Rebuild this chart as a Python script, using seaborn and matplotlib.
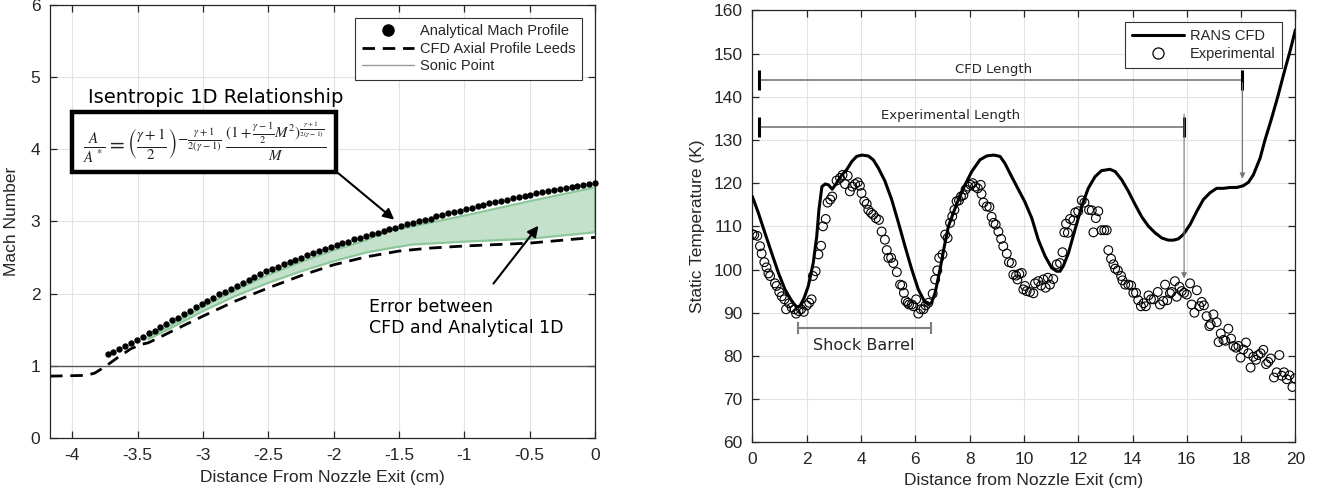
import numpy as np
import matplotlib
matplotlib.use("Agg")
import matplotlib.pyplot as plt
from matplotlib.lines import Line2D
from matplotlib.patches import Rectangle
from matplotlib.ticker import FuncFormatter
import seaborn as sns

sns.set_style("ticks")
plt.rcParams["font.family"] = ["Liberation Sans", "DejaVu Sans"]
plt.rcParams["mathtext.fontset"] = "stix"
plt.rcParams["axes.unicode_minus"] = False

#============== Left panel data (Mach number) ==============
# analytical profile, uniform sample grid from -3.73 cm to the exit
mach_analytical = [
    1.16, 1.20, 1.24, 1.28, 1.32, 1.36, 1.40, 1.45, 1.49, 1.54,
    1.58, 1.63, 1.67, 1.72, 1.76, 1.81, 1.86, 1.90, 1.94, 1.99,
    2.03, 2.07, 2.11, 2.15, 2.19, 2.23, 2.27, 2.31, 2.34, 2.37,
    2.41, 2.44, 2.47, 2.50, 2.53, 2.56, 2.59, 2.62, 2.65, 2.67,
    2.70, 2.72, 2.75, 2.77, 2.80, 2.82, 2.84, 2.87, 2.89, 2.91,
    2.94, 2.96, 2.98, 3.00, 3.02, 3.04, 3.07, 3.09, 3.11, 3.13,
    3.15, 3.17, 3.19, 3.21, 3.23, 3.25, 3.27, 3.28, 3.30, 3.32,
    3.34, 3.35, 3.37, 3.39, 3.40, 3.42, 3.43, 3.45, 3.46, 3.48,
    3.49, 3.50, 3.52, 3.53]
x_analytical = np.linspace(-3.73, 0.0, len(mach_analytical))

x_cfd_axial = [-4.17, -3.90, -3.83, -3.75, -3.65, -3.55, -3.47, -3.42, -3.35, -3.25,
               -3.00, -2.75, -2.50, -2.25, -2.00, -1.75, -1.50, -1.27, -1.00, -0.75,
               -0.50, -0.25, 0.00]
mach_cfd_axial = [0.86, 0.87, 0.90, 0.99, 1.12, 1.24, 1.30, 1.32, 1.38, 1.47,
                  1.69, 1.90, 2.08, 2.25, 2.40, 2.51, 2.59, 2.63, 2.66, 2.68,
                  2.70, 2.74, 2.78]

x_error_band = [-3.42, -3.25, -3.00, -2.75, -2.50, -2.25, -2.00, -1.75, -1.60, -1.40,
                -1.00, -0.50, 0.00]
error_upper = [1.40, 1.56, 1.82, 2.05, 2.26, 2.44, 2.60, 2.74, 2.86, 2.93,
               3.08, 3.28, 3.47]
error_lower = [1.37, 1.52, 1.76, 1.97, 2.15, 2.31, 2.45, 2.57, 2.62, 2.68,
               2.72, 2.76, 2.85]

sonic_mach = 1.0

#============== Right panel data (static temperature) ==============
x_rans = [0.00, 0.22, 0.46, 0.71, 0.96, 1.20, 1.45, 1.63, 1.75, 1.91,
          2.06, 2.24, 2.37, 2.45, 2.56, 2.68, 2.80, 2.94, 3.10, 3.29,
          3.47, 3.66, 3.84, 4.03, 4.27, 4.45, 4.64, 4.88, 5.13, 5.38,
          5.62, 5.87, 6.11, 6.33, 6.48, 6.60, 6.73, 6.91, 7.07, 7.22,
          7.40, 7.59, 7.83, 8.08, 8.38, 8.63, 8.88, 9.12, 9.30, 9.55,
          9.80, 10.04, 10.29, 10.53, 10.78, 11.02, 11.21, 11.33, 11.45, 11.64,
          11.88, 12.13, 12.37, 12.62, 12.86, 13.17, 13.36, 13.60, 13.85, 14.10,
          14.34, 14.59, 14.83, 15.08, 15.32, 15.51, 15.69, 15.87, 16.12, 16.37,
          16.61, 16.86, 17.10, 17.35, 17.60, 17.84, 18.08, 18.27, 18.45, 18.70,
          18.88, 19.10, 19.35, 19.60, 19.80, 20.00]
t_rans = [116.9, 113.1, 108.5, 103.8, 99.2, 95.4, 92.7, 91.3, 91.5, 93.5,
          96.2, 101.5, 107.7, 113.8, 119.2, 119.8, 119.6, 118.6, 120.0, 121.9,
          123.1, 125.0, 126.2, 126.5, 126.3, 125.4, 123.5, 120.5, 116.2, 110.8,
          105.4, 100.0, 95.4, 92.7, 91.9, 92.3, 94.6, 100.0, 105.4, 110.0,
          113.1, 116.2, 119.6, 122.7, 125.4, 126.3, 126.5, 126.2, 124.6, 121.5,
          118.5, 115.6, 111.9, 106.9, 103.1, 100.4, 99.6, 99.6, 100.8, 103.8,
          109.2, 114.6, 118.8, 121.5, 122.9, 123.2, 122.7, 120.8, 118.1, 115.0,
          112.2, 110.0, 108.5, 107.3, 106.8, 106.8, 107.1, 108.1, 110.4, 113.5,
          116.2, 117.8, 118.8, 118.8, 119.0, 119.0, 119.4, 120.2, 121.9, 125.8,
          130.0, 134.5, 140.0, 146.0, 150.5, 155.5]

x_exp = [0.00, 0.07, 0.18, 0.28, 0.34, 0.44, 0.52, 0.59, 0.65, 0.83,
         0.89, 0.99, 1.08, 1.18, 1.24, 1.35, 1.45, 1.55, 1.61, 1.70,
         1.79, 1.89, 2.00, 2.09, 2.18, 2.23, 2.33, 2.43, 2.53, 2.60,
         2.70, 2.77, 2.87, 2.94, 3.10, 3.23, 3.32, 3.41, 3.51, 3.59,
         3.68, 3.78, 3.88, 3.96, 4.02, 4.12, 4.21, 4.27, 4.37, 4.45,
         4.55, 4.66, 4.76,
         4.88, 4.95, 5.01, 5.11, 5.19, 5.32, 5.44, 5.52, 5.58, 5.65,
         5.72, 5.77, 5.87, 5.93, 6.03, 6.11, 6.20, 6.30, 6.38, 6.48,
         6.64, 6.73, 6.81, 6.88, 7.00, 7.10, 7.19, 7.28, 7.36, 7.44,
         7.52, 7.61, 7.68, 7.77, 7.85, 7.95, 8.04, 8.11, 8.20, 8.30,
         8.41, 8.44, 8.51, 8.63, 8.73, 8.81, 8.88, 8.96, 9.06, 9.16,
         9.24, 9.37, 9.45, 9.55, 9.61, 9.71, 9.76, 9.83, 9.92, 9.98,
         10.04, 10.10, 10.22, 10.35, 10.41, 10.53, 10.63, 10.72, 10.80, 10.88,
         10.96, 11.08, 11.21, 11.33, 11.42, 11.49, 11.62, 11.55, 11.70, 11.82,
         11.89, 12.00, 12.13, 12.23, 12.40, 12.50, 12.56, 12.65, 12.74, 12.86,
         12.96, 13.05, 13.11, 13.21, 13.30, 13.36, 13.46, 13.58, 13.63, 13.73,
         13.85, 13.95, 14.03, 14.13, 14.21, 14.31, 14.41, 14.49, 14.59, 14.68,
         14.78, 14.93,
         15.01, 15.13, 15.20, 15.28, 15.38, 15.44, 15.56, 15.63, 15.73, 15.81,
         15.90, 16.00, 16.12, 16.18, 16.28, 16.37, 16.46, 16.55, 16.63, 16.73,
         16.83, 16.88, 16.98, 17.10, 17.17, 17.25, 17.35, 17.42, 17.53, 17.63,
         17.72, 17.81, 17.90, 17.98, 18.08, 18.18, 18.27, 18.35, 18.45, 18.55,
         18.63, 18.72, 18.82, 18.92, 19.00, 19.09, 19.21, 19.31, 19.41, 19.50,
         19.58, 19.68, 19.78, 19.89, 19.99]
t_exp = [108.2, 108.0, 107.8, 105.4, 103.7, 101.7, 100.5, 99.1, 98.5, 96.8,
         96.2, 94.8, 93.8, 93.1, 90.8, 92.2, 91.2, 90.8, 89.8, 90.4,
         90.8, 90.2, 91.7, 92.3, 93.1, 98.5, 99.6, 103.5, 105.5, 110.0,
         111.7, 115.5, 116.2, 116.9, 120.6, 121.2, 121.9, 119.8, 121.7, 118.1,
         119.2, 119.8, 120.2, 119.4, 117.7, 115.8, 115.2, 113.8, 113.1, 112.7,
         111.9, 111.5, 108.8,
         106.9, 104.5, 102.7, 102.7, 101.5, 99.4, 96.5, 96.3, 94.6, 92.7,
         92.3, 91.9, 91.9, 91.5, 93.1, 89.8, 90.8, 90.8, 91.7, 92.3,
         94.4, 97.7, 99.8, 102.7, 103.5, 108.1, 107.3, 110.8, 112.3, 113.8,
         115.8, 116.0, 116.9, 117.2, 118.5, 119.2, 119.6, 120.0, 119.2, 118.8,
         119.6, 117.5, 115.5, 114.6, 114.5, 112.2, 110.8, 110.4, 108.8, 107.1,
         105.4, 103.7, 101.7, 101.5, 98.8, 98.6, 97.7, 99.0, 99.2, 95.4,
         96.2, 95.0, 94.8, 94.5, 96.8, 97.3, 96.3, 97.7, 95.8, 98.1,
         96.5, 97.8, 101.2, 101.5, 104.0, 108.6, 108.5, 110.6, 111.7, 111.4,
         113.2, 113.5, 116.0, 115.5, 113.8, 113.7, 108.6, 111.9, 113.5, 109.1,
         109.1, 109.1, 104.5, 102.5, 101.2, 100.2, 99.8, 98.5, 97.5, 96.5,
         96.5, 96.3, 94.6, 94.6, 92.9, 91.5, 92.2, 91.5, 94.0, 93.1,
         93.1, 94.8,
         91.9, 92.7, 96.5, 92.9, 94.5, 94.8, 97.3, 93.7, 96.0, 95.0,
         94.6, 94.2, 96.8, 91.9, 90.0, 95.2, 91.5, 92.5, 91.7, 89.2,
         86.9, 87.3, 89.6, 87.8, 83.2, 85.2, 83.7, 83.5, 86.3, 84.0,
         82.3, 81.9, 82.3, 79.6, 81.5, 83.1, 80.6, 77.3, 79.8, 79.1,
         80.2, 80.6, 81.4, 78.1, 78.6, 79.4, 75.0, 76.2, 80.2, 75.4,
         76.2, 74.6, 75.5, 72.8, 74.8]

# annotation spans (cm / K)
cfd_length = (0.25, 18.05, 143.9)
exp_length = (0.25, 15.9, 133.1)
shock_barrel = (1.67, 6.57, 86.5)

#============== Figure ==============
INK = "#262626"
fig = plt.figure(figsize=(13.17, 4.97), dpi=100)
ax1 = fig.add_axes([0.0380, 0.1181, 0.4138, 0.8728])
ax2 = fig.add_axes([0.5713, 0.1101, 0.4123, 0.8690])


def matlab_axes(ax):
    ax.grid(True, color="#e3e3e3", lw=0.8)
    ax.set_axisbelow(True)
    for s in ax.spines.values():
        s.set_visible(True)
        s.set_color(INK)
        s.set_linewidth(0.9)
    ax.tick_params(direction="in", top=True, right=True, length=5, width=0.9,
                   colors=INK, labelsize=12.5, pad=7)
    ax.xaxis.set_major_formatter(FuncFormatter(lambda v, p: f"{v:g}"))
    ax.yaxis.set_major_formatter(FuncFormatter(lambda v, p: f"{v:g}"))


# ---- left: Mach number ----
ax1.fill_between(x_error_band, error_lower, error_upper, color="#c4e2cb", lw=0)
sns.lineplot(x=x_error_band, y=error_upper, ax=ax1, color="#8dc79c", lw=1.6)
sns.lineplot(x=x_error_band, y=error_lower, ax=ax1, color="#8dc79c", lw=1.6)
ax1.plot([0, 0], [error_lower[-1], error_upper[-1]], color="#8dc79c", lw=1.6)
ax1.axhline(sonic_mach, color="#555555", lw=1.0, zorder=2)
sns.lineplot(x=x_cfd_axial, y=mach_cfd_axial, ax=ax1, color="k", lw=2.0,
             linestyle=(0, (4.5, 2.8)))
sns.scatterplot(x=x_analytical, y=mach_analytical, ax=ax1, color="k", s=21,
                linewidth=0, zorder=4, clip_on=False)

ax1.set_xlim(-4.17, 0)
ax1.set_ylim(0, 6)
ax1.set_xticks(np.arange(-4, 0.01, 0.5))
ax1.set_yticks(range(0, 7))
matlab_axes(ax1)
ax1.set_xlabel("Distance From Nozzle Exit (cm)", fontsize=12.5, color=INK, labelpad=5)
ax1.set_ylabel("Mach Number", fontsize=12.5, color=INK, labelpad=8)

left_handles = [
    Line2D([], [], color="k", marker="o", ms=8, lw=0),
    Line2D([], [], color="k", lw=2.0, linestyle=(0, (4.5, 2.8))),
    Line2D([], [], color="#9a9a9a", lw=1.0),
]
leg1 = ax1.legend(left_handles, ["Analytical Mach Profile", "CFD Axial Profile Leeds", "Sonic Point"],
                  loc="upper right", bbox_to_anchor=(0.976, 0.97), fontsize=10.5,
                  handlelength=3.6, handletextpad=0.4, labelspacing=0.25, borderpad=0.45,
                  fancybox=False, framealpha=1, edgecolor="#333333", borderaxespad=0)
leg1.get_frame().set_linewidth(0.8)

ax1.text(-2.9, 4.71, "Isentropic 1D Relationship", family="DejaVu Sans", fontsize=14,
         ha="center", va="center", color="k")
ax1.add_patch(Rectangle((-4.0, 3.69), 2.02, 0.83, facecolor="white", edgecolor="k",
                        lw=3.2, zorder=5))
ax1.text(-3.92, 4.09,
         r"$\frac{A}{A^*} = \left(\frac{\gamma+1}{2}\right)^{-\frac{\gamma+1}{2(\gamma-1)}}"
         r"\,\frac{(1+\frac{\gamma-1}{2}M^2)^{\frac{\gamma+1}{2(\gamma-1)}}}{M}$",
         fontsize=15.5, ha="left", va="center", zorder=6, color="#222222")
ax1.annotate("", xy=(-1.52, 3.0), xytext=(-1.98, 3.69),
             arrowprops=dict(arrowstyle="-|>", color="k", lw=1.5, mutation_scale=16), zorder=6)
ax1.annotate("", xy=(-0.42, 2.97), xytext=(-0.79, 2.11),
             arrowprops=dict(arrowstyle="-|>", color="k", lw=1.5, mutation_scale=16))
ax1.text(-1.73, 1.67, "Error between\nCFD and Analytical 1D", family="DejaVu Sans",
         fontsize=12.5, ha="left", va="center", color="k", linespacing=1.25)

# ---- right: static temperature ----
sns.lineplot(x=x_rans, y=t_rans, ax=ax2, color="k", lw=2.2, sort=False, zorder=3)
sns.scatterplot(x=x_exp, y=t_exp, ax=ax2, marker="o", s=40, facecolors="none",
                edgecolor="k", linewidth=0.8, zorder=4)

for x0, x1, yy in (cfd_length, exp_length):
    ax2.plot([x0, x1], [yy, yy], color="#8a8a8a", lw=1.4, zorder=2)
    ax2.plot([x0, x1], [yy, yy], lw=0, marker="|", ms=14, mew=2.2, color="k", zorder=3)
ax2.text(8.9, 146.2, "CFD Length", family="DejaVu Sans", fontsize=9.5, ha="center", va="center")
ax2.text(7.3, 135.7, "Experimental Length", family="DejaVu Sans", fontsize=9.5,
         ha="center", va="center")
ax2.annotate("", xy=(18.05, 120.4), xytext=(18.05, 143.9),
             arrowprops=dict(arrowstyle="-|>", color="#777777", lw=0.8, mutation_scale=8))
ax2.annotate("", xy=(15.9, 97.3), xytext=(15.9, 136.6),
             arrowprops=dict(arrowstyle="-|>", color="#777777", lw=0.8, mutation_scale=8))
sx0, sx1, sy = shock_barrel
ax2.plot([sx0, sx1], [sy, sy], color="#808080", lw=1.5)
ax2.plot([sx0, sx1], [sy, sy], lw=0, marker="|", ms=9, mew=1.5, color="#808080")
ax2.text(2.24, 82.5, "Shock Barrel", family="DejaVu Sans", fontsize=11.5, ha="left", va="center")

ax2.set_xlim(0, 20)
ax2.set_ylim(60, 160)
ax2.set_xticks(range(0, 21, 2))
ax2.set_yticks(range(60, 161, 10))
matlab_axes(ax2)
ax2.set_xlabel("Distance from Nozzle Exit (cm)", fontsize=12.5, color=INK, labelpad=4)
ax2.set_ylabel("Static Temperature (K)", fontsize=12.5, color=INK, labelpad=6)

right_handles = [
    Line2D([], [], color="k", lw=2.2),
    Line2D([], [], color="k", marker="o", ms=8, mfc="none", mew=0.9, lw=0),
]
leg2 = ax2.legend(right_handles, ["RANS CFD", "Experimental"], loc="upper right",
                  bbox_to_anchor=(0.976, 0.972), fontsize=10.5, handlelength=3.6,
                  handletextpad=0.4, labelspacing=0.3, borderpad=0.45, fancybox=False,
                  framealpha=1, edgecolor="#333333", borderaxespad=0)
leg2.get_frame().set_linewidth(0.8)

fig.savefig("out.png", dpi=100)
